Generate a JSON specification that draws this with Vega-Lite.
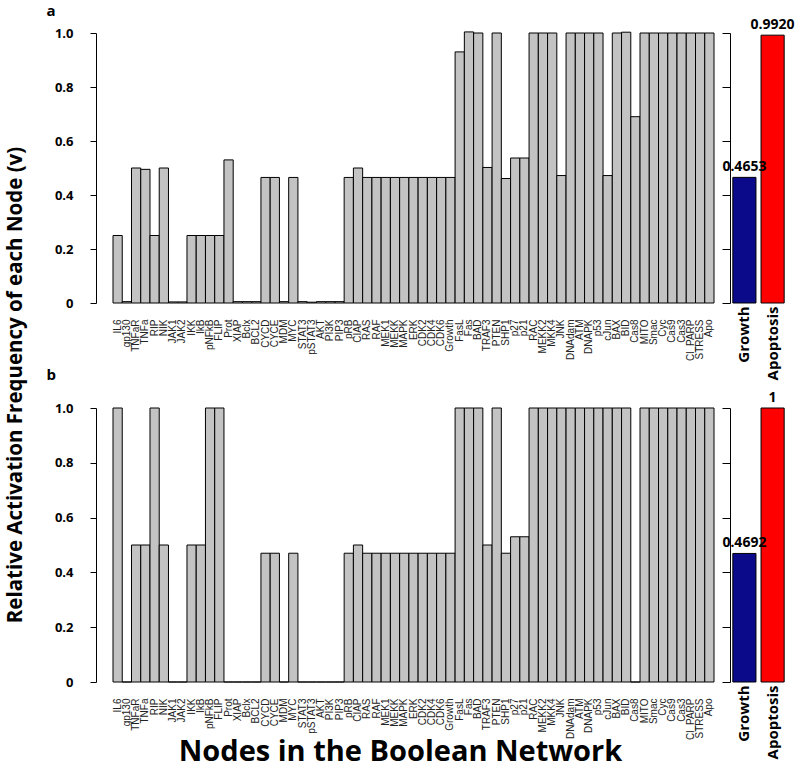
{
  "$schema": "https://vega.github.io/schema/vega-lite/v6.json",
  "padding": {"left": 5, "top": 4, "right": 5, "bottom": 3},
  "background": "white",
  "config": {
    "view": {"stroke": null},
    "font": "Liberation Sans",
    "concat": {"spacing": 0}
  },
  "title": {"text": "Relative Activation Frequency of each Node (v)", "orient": "left", "anchor": "middle", "font": "Open Sans", "fontSize": 20.5, "fontWeight": "bold", "color": "black", "offset": 20},
  "datasets": {
    "nodesA": [
      {"node": "IL6", "v": 0.25}, {"node": "gp130", "v": 0.005}, {"node": "TNFaR", "v": 0.5}, {"node": "TNFa", "v": 0.495},
      {"node": "RIP", "v": 0.25}, {"node": "NIK", "v": 0.5}, {"node": "JAK1", "v": 0.004}, {"node": "JAK2", "v": 0.004},
      {"node": "IKK", "v": 0.25}, {"node": "IkB", "v": 0.25}, {"node": "pNFkB", "v": 0.25}, {"node": "FLIP", "v": 0.25},
      {"node": "Prot", "v": 0.53}, {"node": "XIAP", "v": 0.005}, {"node": "Bclx", "v": 0.005}, {"node": "BCL2", "v": 0.005},
      {"node": "CYCD", "v": 0.465}, {"node": "CYCE", "v": 0.465}, {"node": "MDM", "v": 0.005}, {"node": "MYC", "v": 0.465},
      {"node": "STAT3", "v": 0.005}, {"node": "pSTAT3", "v": 0.003}, {"node": "AKT", "v": 0.005}, {"node": "PI3K", "v": 0.005},
      {"node": "PIP3", "v": 0.005}, {"node": "pRB", "v": 0.465}, {"node": "CIAP", "v": 0.5}, {"node": "RAS", "v": 0.465},
      {"node": "RAF", "v": 0.465}, {"node": "MEK1", "v": 0.465}, {"node": "MEKK", "v": 0.465}, {"node": "MAPK", "v": 0.465},
      {"node": "ERK", "v": 0.465}, {"node": "CDK2", "v": 0.465}, {"node": "CDK4", "v": 0.465}, {"node": "CDK6", "v": 0.465},
      {"node": "Growth", "v": 0.465}, {"node": "FasL", "v": 0.93}, {"node": "Fas", "v": 1.004}, {"node": "BAD", "v": 1.0},
      {"node": "TRAF3", "v": 0.502}, {"node": "PTEN", "v": 1.0}, {"node": "SHP1", "v": 0.461}, {"node": "p27", "v": 0.537},
      {"node": "p21", "v": 0.537}, {"node": "RAC", "v": 1.0}, {"node": "MEKK2", "v": 1.0}, {"node": "MKK4", "v": 1.0},
      {"node": "JNK", "v": 0.472}, {"node": "DNAdam", "v": 1.0}, {"node": "ATM", "v": 1.0}, {"node": "DNAPK", "v": 1.0},
      {"node": "p53", "v": 1.0}, {"node": "cJun", "v": 0.472}, {"node": "BAX", "v": 1.0}, {"node": "BID", "v": 1.003},
      {"node": "Cas8", "v": 0.69}, {"node": "MITO", "v": 1.0}, {"node": "Smac", "v": 1.0}, {"node": "Cyc", "v": 1.0},
      {"node": "Cas9", "v": 1.0}, {"node": "Cas3", "v": 1.0}, {"node": "Cl_PARP", "v": 1.0}, {"node": "STRESS", "v": 1.0},
      {"node": "Apo", "v": 1.0}
    ],
    "nodesB": [
      {"node": "IL6", "v": 1.0}, {"node": "gp130", "v": 0}, {"node": "TNFaR", "v": 0.5}, {"node": "TNFa", "v": 0.5},
      {"node": "RIP", "v": 1.0}, {"node": "NIK", "v": 0.5}, {"node": "JAK1", "v": 0}, {"node": "JAK2", "v": 0},
      {"node": "IKK", "v": 0.5}, {"node": "IkB", "v": 0.5}, {"node": "pNFkB", "v": 1.0}, {"node": "FLIP", "v": 1.0},
      {"node": "Prot", "v": 0}, {"node": "XIAP", "v": 0}, {"node": "Bclx", "v": 0}, {"node": "BCL2", "v": 0},
      {"node": "CYCD", "v": 0.47}, {"node": "CYCE", "v": 0.47}, {"node": "MDM", "v": 0}, {"node": "MYC", "v": 0.47},
      {"node": "STAT3", "v": 0}, {"node": "pSTAT3", "v": 0}, {"node": "AKT", "v": 0}, {"node": "PI3K", "v": 0},
      {"node": "PIP3", "v": 0}, {"node": "pRB", "v": 0.47}, {"node": "CIAP", "v": 0.5}, {"node": "RAS", "v": 0.47},
      {"node": "RAF", "v": 0.47}, {"node": "MEK1", "v": 0.47}, {"node": "MEKK", "v": 0.47}, {"node": "MAPK", "v": 0.47},
      {"node": "ERK", "v": 0.47}, {"node": "CDK2", "v": 0.47}, {"node": "CDK4", "v": 0.47}, {"node": "CDK6", "v": 0.47},
      {"node": "Growth", "v": 0.47}, {"node": "FasL", "v": 1.0}, {"node": "Fas", "v": 1.0}, {"node": "BAD", "v": 1.0},
      {"node": "TRAF3", "v": 0.5}, {"node": "PTEN", "v": 1.0}, {"node": "SHP1", "v": 0.47}, {"node": "p27", "v": 0.53},
      {"node": "p21", "v": 0.53}, {"node": "RAC", "v": 1.0}, {"node": "MEKK2", "v": 1.0}, {"node": "MKK4", "v": 1.0},
      {"node": "JNK", "v": 1.0}, {"node": "DNAdam", "v": 1.0}, {"node": "ATM", "v": 1.0}, {"node": "DNAPK", "v": 1.0},
      {"node": "p53", "v": 1.0}, {"node": "cJun", "v": 1.0}, {"node": "BAX", "v": 1.0}, {"node": "BID", "v": 1.0},
      {"node": "Cas8", "v": 0}, {"node": "MITO", "v": 1.0}, {"node": "Smac", "v": 1.0}, {"node": "Cyc", "v": 1.0},
      {"node": "Cas9", "v": 1.0}, {"node": "Cas3", "v": 1.0}, {"node": "Cl_PARP", "v": 1.0}, {"node": "STRESS", "v": 1.0},
      {"node": "Apo", "v": 1.0}
    ],
    "sideA": [
      {"name": "Growth", "v": 0.4653, "label": "0.4653"},
      {"name": "Apoptosis", "v": 0.992, "label": "0.9920"}
    ],
    "sideB": [
      {"name": "Growth", "v": 0.4692, "label": "0.4692"},
      {"name": "Apoptosis", "v": 1.0, "label": "1"}
    ]
  },
  "spacing": -12,
  "vconcat": [
    {
      "hconcat": [
        {
          "width": 601, "height": 270,
          "data": {"name": "nodesA"},
          "title": {"text": "a", "anchor": "start", "dx": -8, "font": "Open Sans", "fontSize": 15, "fontWeight": "bold", "color": "black", "offset": 8},
          "mark": {"type": "bar", "fill": "#c3c3c3", "stroke": "black", "strokeWidth": 1},
          "encoding": {
            "x": {"field": "node", "type": "nominal", "sort": null,
                  "scale": {"paddingInner": 0, "paddingOuter": 0},
                  "axis": {"title": null, "labelAngle": -90, "labelFontSize": 10, "labelPadding": 16, "labelColor": "#222", "ticks": false, "domain": false, "labelOverlap": false}},
            "y": {"field": "v", "type": "quantitative", "scale": {"domain": [0, 1], "nice": false},
                  "axis": {"title": null, "values": [0, 0.2, 0.4, 0.6, 0.8, 1], "labelExpr": "datum.value == 0 ? '0' : format(datum.value, '.1f')", "grid": false, "offset": 17, "tickSize": 6, "labelPadding": 17, "labelFont": "Open Sans", "labelFontSize": 13, "labelFontWeight": "bold", "labelColor": "black", "domainColor": "black", "tickColor": "black"}}
          }
        },
        {
          "width": 57, "height": 270,
          "data": {"name": "sideA"},
          "encoding": {
            "x": {"field": "name", "type": "nominal", "sort": null,
                  "scale": {"paddingInner": 0.18, "paddingOuter": 0.1},
                  "axis": {"title": null, "labelAngle": -90, "labelFont": "Open Sans", "labelFontSize": 15, "labelFontWeight": "bold", "labelColor": "black", "ticks": false, "domain": false, "labelPadding": 3}},
            "y": {"field": "v", "type": "quantitative", "scale": {"domain": [0, 1], "nice": false},
                  "axis": {"title": null, "labels": false, "values": [0, 0.2, 0.4, 0.6, 0.8, 1], "tickSize": 8, "grid": false, "domainColor": "black", "tickColor": "black"}}
          },
          "layer": [
            {"mark": {"type": "bar", "stroke": "black", "strokeWidth": 1},
             "encoding": {"color": {"field": "name", "type": "nominal", "scale": {"domain": ["Growth", "Apoptosis"], "range": ["#0a0a8a", "#ff0000"]}, "legend": null}}},
            {"mark": {"type": "text", "baseline": "bottom", "dy": -3, "font": "Open Sans", "fontSize": 14, "fontWeight": "bold", "color": "black"},
             "encoding": {"text": {"field": "label", "type": "nominal"}}}
          ]
        }
      ],
      "spacing": 6
    },
    {
      "hconcat": [
        {
          "width": 601, "height": 274,
          "data": {"name": "nodesB"},
          "title": {"text": "b", "anchor": "start", "dx": -8, "font": "Open Sans", "fontSize": 15, "fontWeight": "bold", "color": "black", "offset": 19},
          "mark": {"type": "bar", "fill": "#c3c3c3", "stroke": "black", "strokeWidth": 1},
          "encoding": {
            "x": {"field": "node", "type": "nominal", "sort": null,
                  "scale": {"paddingInner": 0, "paddingOuter": 0},
                  "axis": {"title": "Nodes in the Boolean Network", "titleFont": "Open Sans", "titleFontSize": 29, "titleFontWeight": "bold", "titleColor": "black", "titleX": 287, "titleY": 78, "titleAlign": "center", "titleBaseline": "alphabetic", "labelAngle": -90, "labelFontSize": 10, "labelPadding": 16, "labelColor": "#222", "ticks": false, "domain": false, "labelOverlap": false}},
            "y": {"field": "v", "type": "quantitative", "scale": {"domain": [0, 1], "nice": false},
                  "axis": {"title": null, "values": [0, 0.2, 0.4, 0.6, 0.8, 1], "labelExpr": "datum.value == 0 ? '0' : format(datum.value, '.1f')", "grid": false, "offset": 17, "tickSize": 6, "labelPadding": 17, "labelFont": "Open Sans", "labelFontSize": 13, "labelFontWeight": "bold", "labelColor": "black", "domainColor": "black", "tickColor": "black"}}
          }
        },
        {
          "width": 57, "height": 274,
          "data": {"name": "sideB"},
          "encoding": {
            "x": {"field": "name", "type": "nominal", "sort": null,
                  "scale": {"paddingInner": 0.18, "paddingOuter": 0.1},
                  "axis": {"title": null, "labelAngle": -90, "labelFont": "Open Sans", "labelFontSize": 15, "labelFontWeight": "bold", "labelColor": "black", "ticks": false, "domain": false, "labelPadding": 3}},
            "y": {"field": "v", "type": "quantitative", "scale": {"domain": [0, 1], "nice": false},
                  "axis": {"title": null, "labels": false, "values": [0, 0.2, 0.4, 0.6, 0.8, 1], "tickSize": 8, "grid": false, "domainColor": "black", "tickColor": "black"}}
          },
          "layer": [
            {"mark": {"type": "bar", "stroke": "black", "strokeWidth": 1},
             "encoding": {"color": {"field": "name", "type": "nominal", "scale": {"domain": ["Growth", "Apoptosis"], "range": ["#0a0a8a", "#ff0000"]}, "legend": null}}},
            {"mark": {"type": "text", "baseline": "bottom", "dy": -3, "font": "Open Sans", "fontSize": 14, "fontWeight": "bold", "color": "black"},
             "encoding": {"text": {"field": "label", "type": "nominal"}}}
          ]
        }
      ],
      "spacing": 6
    }
  ]
}
